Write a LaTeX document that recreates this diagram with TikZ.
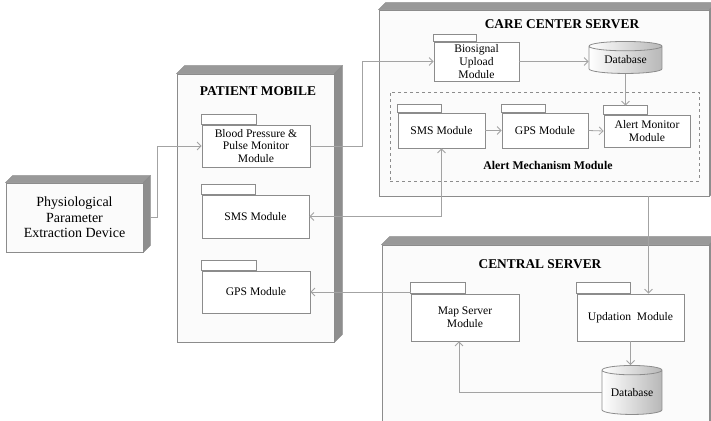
\documentclass[tikz,border=0pt]{standalone}
\usepackage{fontspec}
\setmainfont{Liberation Serif}
\usetikzlibrary{positioning,arrows.meta,shapes.geometric,calc}
\definecolor{edge}{HTML}{8C8C8C}
\definecolor{wire}{HTML}{A3A3A3}
\definecolor{face}{HTML}{FBFBFB}
\definecolor{rim}{HTML}{8E8E8E}

\begin{document}
\begin{tikzpicture}[x=1pt,y=-1pt,
  font=\fontsize{11.6}{12.6}\selectfont,
  front/.style={rectangle,draw=edge,fill=face,line width=0.8pt,inner sep=0pt},
  pkg/.style={rectangle,draw=edge,fill=white,line width=0.8pt,inner sep=1pt,align=center},
  db/.style={cylinder,shape border rotate=90,aspect=0.22,draw=edge,line width=0.8pt,
    left color=white,right color=black!28,inner sep=0pt},
  title/.style={font=\fontsize{13.4}{15}\selectfont\bfseries},
  link/.style={draw=wire,line width=0.8pt},
  >={Straight Barb[length=4pt,width=8pt]}]

\useasboundingbox (0,0) rectangle (711,420);
\clip (0,0) rectangle (711,420);
\fill[white] (0,0) rectangle (711,420);

% nodes of the deployment
\node[front,minimum width=137,minimum height=69,align=center,
  font=\fontsize{14}{15.6}\selectfont] (dev) at (74.5,217.5)
  {Physiological\\Parameter\\Extraction Device};
\node[front,minimum width=157,minimum height=268] (pm)   at (255.5,208) {};
\node[front,minimum width=330,minimum height=186] (care) at (544,103) {};
\node[front,minimum width=327,minimum height=195] (cen)  at (545.5,342.5) {};

% top and side faces
\foreach \b/\d in {dev/7,pm/8,care/7,cen/8}{
  \filldraw[fill=black!40,draw=edge] (\b.north west) -- ++(\d,-\d)
    -- ([xshift=\d pt,yshift=\d pt]\b.north east) -- (\b.north east) -- cycle;
  \filldraw[fill=rim,draw=edge] (\b.north east) -- ++(\d,-\d)
    -- ([xshift=\d pt,yshift=\d pt]\b.south east) -- (\b.south east) -- cycle;
}

\node[title] (pmT)   at (258,91)  {PATIENT MOBILE};
\node[title] (careT) at (562,24)  {CARE CENTER SERVER};
\node[title] (cenT)  at (540,264) {CENTRAL SERVER};

% patient mobile
\node[pkg,minimum width=108,minimum height=42] (bp)   at (256,146)
  {Blood Pressure \&\\Pulse Monitor\\Module};
\node[pkg,minimum width=107,minimum height=43] (psms) at (255.5,216.5) {SMS Module};
\node[pkg,minimum width=108,minimum height=42] (pgps) at (256,292) {GPS Module};

% care center
\node[pkg,minimum width=85,minimum height=39] (bio) at (476.5,61.5)
  {Biosignal\\Upload\\Module};
\node[db,minimum width=73,minimum height=32] (cdb) at (625.5,60) {Database};
\node[draw=edge,dashed,line width=0.8pt,minimum width=309,minimum height=89] (amm)
  at (544.5,136.5) {};
\node[font=\fontsize{11.8}{13}\selectfont\bfseries] (ammT) at (548,165)
  {Alert Mechanism Module};
\node[pkg,minimum width=87,minimum height=35] (csms)  at (441.5,130.5) {SMS Module};
\node[pkg,minimum width=86,minimum height=35] (cgps)  at (545,130.5) {GPS Module};
\node[pkg,minimum width=86,minimum height=32] (alert) at (647,131)
  {Alert Monitor\\Module};

% central server
\node[pkg,minimum width=108,minimum height=47] (map) at (465,317.5)
  {Map Server\\Module};
\node[pkg,minimum width=107,minimum height=47] (upd) at (630.5,317.5)
  {Updation\ \ Module};
\node[db,minimum width=60,minimum height=49] (db2) at (632,392.5) {Database};

% package tabs
\foreach \m/\h in {bp/10,psms/10,pgps/10,bio/7,csms/8,cgps/8,alert/9,map/11,upd/11}{
  \draw[draw=edge,fill=white,line width=0.8pt] (\m.north west) rectangle ($(\m.north)+(0,-\h)$);
  \coordinate (\m-tab) at ($(\m.north)+(0,-\h)$);
}

% connectors
\coordinate (dev-out) at ([xshift=7pt]dev.east);
\draw[link,->] (dev-out) -- ++(7,0) |- (bp.west);
\draw[link,->] (bp.east) -- ++(52,0) |- (bio.west);
\draw[link,->] (bio.east) -- (bio.east -| cdb.west);
\draw[link,->] (cdb.south) -- (cdb.south |- alert-tab);
\draw[link,->] (csms.east) -- (cgps.west);
\draw[link,->] (cgps.east) -- (alert.west);
\draw[link,<->] (psms.east) -| (csms.south);
\coordinate (upd-in) at ([xshift=18pt]upd.north);
\draw[link,->] (upd-in |- care.south) -- (upd-in);
\draw[link,->] (upd.south) -- (upd.south |- db2.north);
\draw[link,->] (db2.west) -| ([xshift=-6pt]map.south);
\draw[link,->] (map.north west |- pgps.east) -- (pgps.east);
\end{tikzpicture}
\end{document}
